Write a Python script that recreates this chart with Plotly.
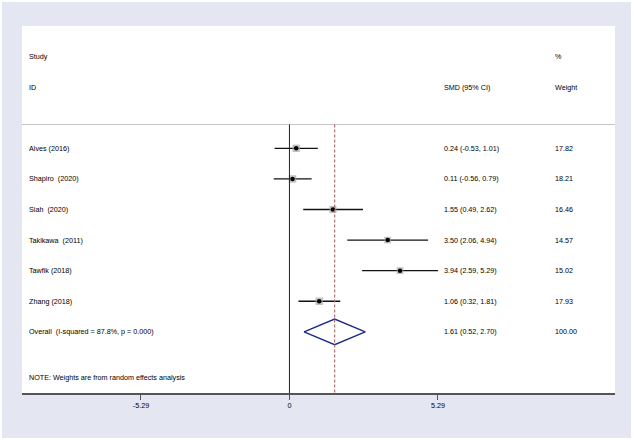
import plotly.graph_objects as go

# ---- data ----
studies = ["Alves (2016)", "Shapiro\u00a0 (2020)", "Siah\u00a0 (2020)",
           "Takikawa\u00a0 (2011)", "Tawfik (2018)", "Zhang (2018)"]
smd = [0.24, 0.11, 1.55, 3.50, 3.94, 1.06]
ci_low = [-0.53, -0.56, 0.49, 2.06, 2.59, 0.32]
ci_high = [1.01, 0.79, 2.62, 4.94, 5.29, 1.81]
weights = [17.82, 18.21, 16.46, 14.57, 15.02, 17.93]
overall_label = "Overall\u00a0 (I-squared = 87.8%, p = 0.000)"
overall_smd = 1.61
overall_low = 0.52
overall_high = 2.70
overall_weight = 100.00
tick_vals = [-5.29, 0, 5.29]
tick_text = ["-5.29", "0", "5.29"]
note = "NOTE: Weights are from random effects analysis"

rows = [4 + i for i in range(len(studies))]
overall_row = rows[-1] + 1
sep_row = 3.22
bottom_row = 12

FONT = "Liberation Sans, Arial, sans-serif"
TXT = "#000000"

fig = go.Figure()

# CI lines
for r, lo, hi in zip(rows, ci_low, ci_high):
    fig.add_trace(go.Scatter(x=[lo, hi], y=[r, r], mode="lines",
                             line=dict(color="#111111", width=1.4),
                             showlegend=False, hoverinfo="skip"))
# weight boxes
fig.add_trace(go.Scatter(x=smd, y=rows, mode="markers",
                         marker=dict(symbol="square", color="#a8a8a8",
                                     size=[7.5 * (w / 18.21) ** 0.5 for w in weights],
                                     line=dict(width=0)),
                         showlegend=False, hoverinfo="skip"))
# point estimates
fig.add_trace(go.Scatter(x=smd, y=rows, mode="markers",
                         marker=dict(symbol="circle", color="#000000", size=4.5),
                         showlegend=False, hoverinfo="skip"))
# diamond
h = 0.42
fig.add_trace(go.Scatter(
    x=[overall_low, overall_smd, overall_high, overall_smd, overall_low],
    y=[overall_row, overall_row - h, overall_row, overall_row + h, overall_row],
    mode="lines", line=dict(color="#1c2a86", width=1.4),
    showlegend=False, hoverinfo="skip"))

shapes = [
    # outer lavender frame
    dict(type="rect", xref="paper", yref="paper", x0=-0.0337, x1=1.027,
         y0=-0.1226, y1=1.0654, fillcolor="#e4e7f1", line=dict(width=0), layer="below"),
    # white plot region
    dict(type="rect", xref="paper", yref="paper", x0=0, x1=1, y0=0, y1=1,
         fillcolor="white", line=dict(width=0), layer="below"),
    # separator
    dict(type="line", xref="paper", yref="y", x0=0, x1=1, y0=sep_row, y1=sep_row,
         line=dict(color="#c4c4c4", width=1)),
    # zero line
    dict(type="line", xref="x", yref="y", x0=0, x1=0, y0=sep_row, y1=bottom_row,
         line=dict(color="#222222", width=1)),
    # overall line
    dict(type="line", xref="x", yref="y", x0=overall_smd, x1=overall_smd,
         y0=sep_row, y1=bottom_row,
         line=dict(color="#b07272", width=1.2, dash="3px,2px")),
]

annotations = []
def txt(x, y, s):
    annotations.append(dict(x=x, y=y, xref="x", yref="y", text=s, showarrow=False,
                            xanchor="left", yanchor="middle",
                            font=dict(family=FONT, size=7.2, color=TXT)))

col_study = -9.36
col_smd = 5.43
col_w = 9.39
txt(col_study, 1, "Study")
txt(col_study, 2, "ID")
txt(col_smd, 2, "SMD (95% CI)")
txt(col_w, 1, "%")
txt(col_w, 2, "Weight")
for r, s, m, lo, hi, w in zip(rows, studies, smd, ci_low, ci_high, weights):
    txt(col_study, r, s)
    txt(col_smd, r, f"{m:.2f} ({lo:.2f}, {hi:.2f})")
    txt(col_w, r, f"{w:.2f}")
txt(col_study, overall_row, overall_label)
txt(col_smd, overall_row, f"{overall_smd:.2f} ({overall_low:.2f}, {overall_high:.2f})")
txt(col_w, overall_row, f"{overall_weight:.2f}")
txt(col_study, 11.5, note)

fig.update_layout(
    width=634, height=440,
    margin=dict(l=22, r=19, t=26, b=47),
    paper_bgcolor="white", plot_bgcolor="rgba(0,0,0,0)",
    shapes=shapes, annotations=annotations,
    xaxis=dict(range=[-9.53, 11.60], tickvals=tick_vals, ticktext=tick_text,
               showgrid=False, zeroline=False, showline=True, linecolor="#555555",
               linewidth=1.5, ticks="outside", ticklen=5, tickcolor="#555555",
               tickwidth=1, tickfont=dict(family=FONT, size=7.2, color=TXT)),
    yaxis=dict(range=[bottom_row, 0], visible=False, showgrid=False, zeroline=False),
)

fig.write_html("out.html", config={"displayModeBar": False},
               post_script="document.body.style.margin='0';document.body.style.overflow='hidden';")
